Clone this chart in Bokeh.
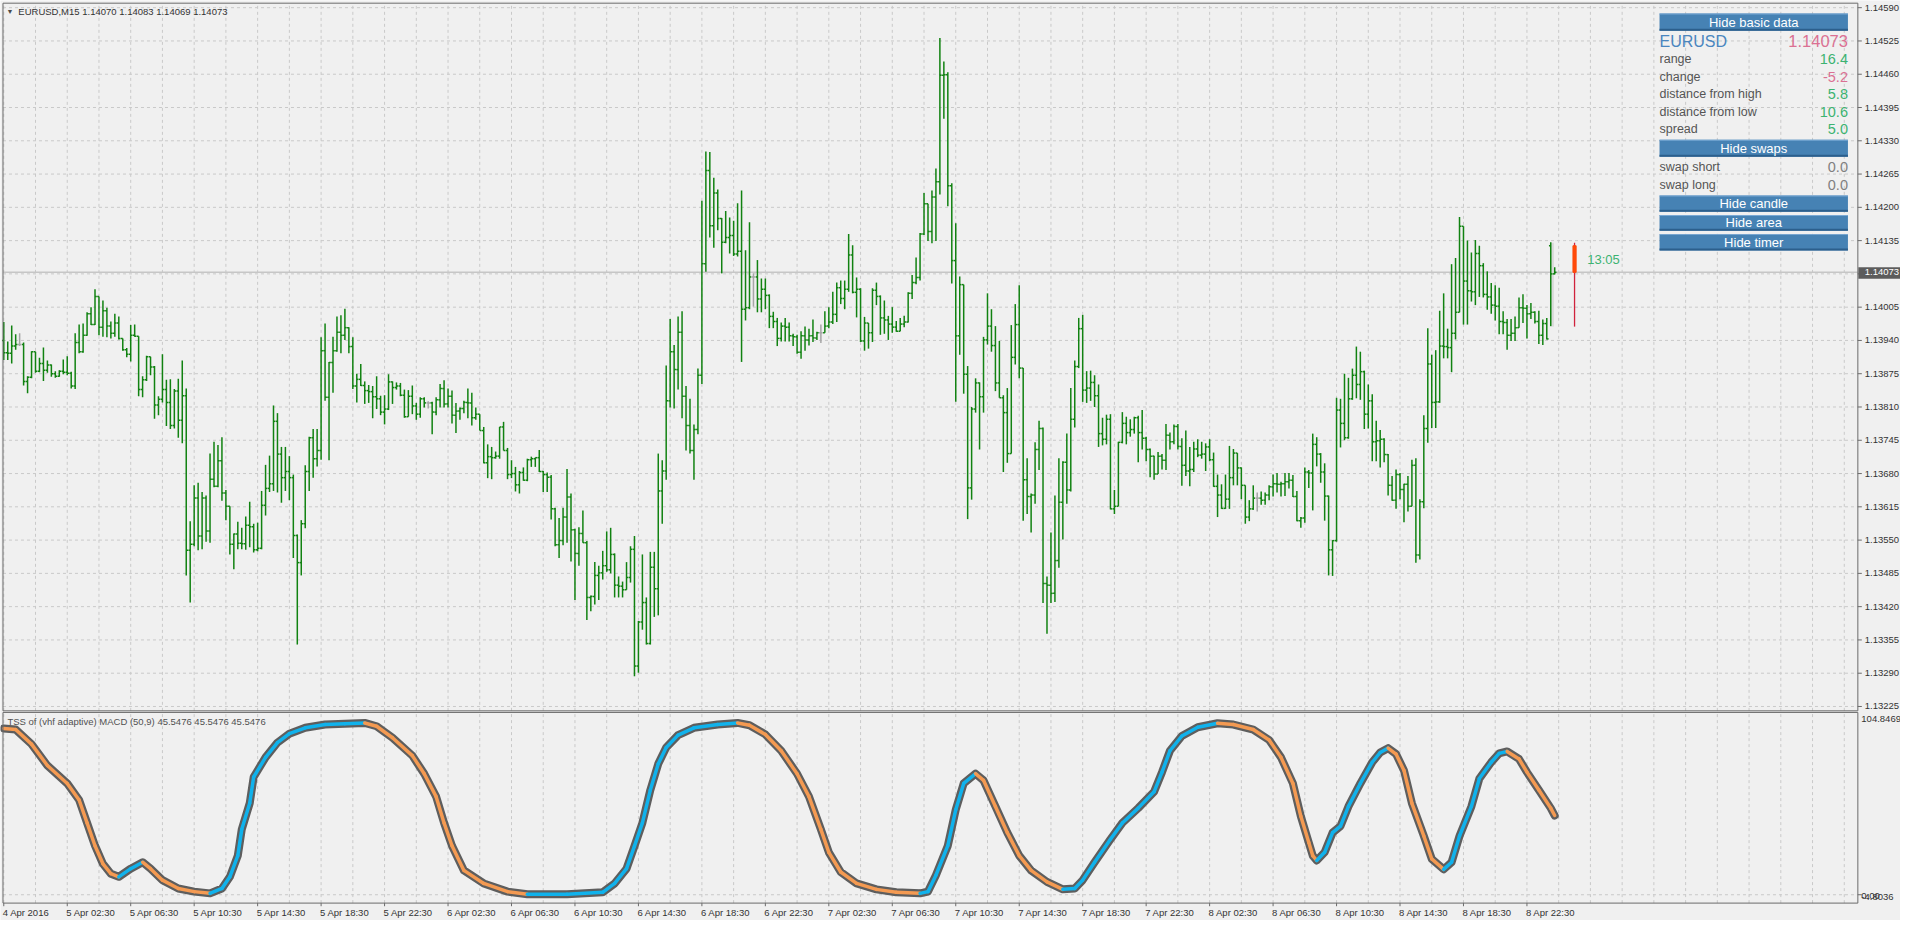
import numpy as np
from bokeh.plotting import figure
from bokeh.models import (Range1d, Label, LabelSet, BoxAnnotation, ColumnDataSource)
from bokeh.embed import file_html
from bokeh.resources import INLINE
from bokeh.core.properties import value

# ---------------- data (prices in points, 1 point = 0.00001) ----------------
symbol = "EURUSD"
period = "M15"
title_ohlc = "1.14070 1.14083 1.14069 1.14073"

opens_pt = [
113940,113916,113915,113929,113932,113932,113860,113868,113918,113880,
113895,113882,113892,113875,113870,113880,113878,113876,113851,113936,
113918,113950,113992,113971,114026,113966,113998,113968,113954,113974,
113944,113922,113913,113950,113948,113844,113863,113908,113888,113814,
113825,113844,113819,113774,113841,113784,113832,113530,113542,113632,
113558,113632,113568,113669,113655,113705,113642,113616,113542,113562,
113544,113543,113579,113576,113531,113534,113618,113651,113660,113782,
113718,113672,113684,113672,113559,113506,113582,113684,113750,113709,
113725,113920,113829,113897,113920,113956,113950,113965,113928,113851,
113864,113852,113842,113840,113830,113826,113800,113806,113859,113848,
113851,113833,113791,113831,113812,113796,113826,113818,113818,113800,
113824,113846,113816,113831,113794,113802,113807,113819,113818,113789,
113796,113764,113701,113713,113711,113714,113771,113725,113678,113680,
113658,113682,113667,113707,113709,113711,113684,113678,113673,113611,
113541,113549,113595,113634,113570,113524,113563,113545,113438,113440,
113481,113486,113500,113492,113522,113462,113460,113453,113477,113532,
113304,113390,113428,113348,113497,113455,113646,113685,113822,113918,
113883,113956,113831,113774,113725,113766,113872,114090,114272,114164,
114228,114178,114132,114141,114145,114109,114114,114001,114004,114064,
114064,114021,114040,114028,113987,113977,113944,113968,113966,113949,
113947,113917,113949,113941,113949,113945,113955,113955,113968,113976,
113991,114043,114022,114040,114107,114034,114040,113939,113974,113955,
114038,114026,113984,113980,113972,113966,113958,113972,113976,114032,
114053,114063,114148,114207,114153,114220,114250,114458,114459,114242,
114096,113949,114049,113874,113652,113806,113857,113830,113941,113968,
113930,113857,113828,113799,113719,113907,113971,113886,113668,113635,
113638,113727,113768,113465,113462,113446,113510,113624,113702,113648,
113786,113889,113963,113843,113847,113858,113832,113758,113747,113786,
113611,113616,113741,113778,113760,113766,113789,113760,113749,113727,
113714,113679,113714,113706,113755,113742,113772,113733,113696,113685,
113688,113728,113716,113718,113732,113707,113655,113638,113612,113630,
113672,113720,113691,113657,113595,113611,113632,113632,113628,113638,
113654,113660,113659,113660,113664,113667,113635,113588,113593,113683,
113681,113737,113718,113683,113636,113531,113549,113804,113778,113750,
113826,113872,113854,113879,113796,113822,113742,113744,113747,113717,
113657,113628,113678,113649,113659,113616,113696,113521,113625,113768,
113894,113819,113820,113929,113928,113926,113954,113995,114163,114056,
114037,114035,114110,114086,114030,114025,114009,114007,113977,113975,
113950,113954,113965,114004,114003,113992,113995,113977,113950,113973,
114125,114070]

highs_pt = [
113976,113938,113969,113952,113954,113936,113870,113919,113918,113906,
113926,113901,113893,113880,113882,113903,113909,113879,113954,113971,
113973,113995,114005,114040,114026,114018,114004,113977,113992,113987,
113944,113925,113970,113971,113948,113870,113910,113908,113890,113831,
113913,113863,113864,113845,113865,113901,113846,113587,113657,113662,
113644,113637,113719,113742,113736,113751,113648,113616,113563,113586,
113574,113596,113625,113582,113584,113646,113697,113715,113813,113798,
113732,113732,113714,113678,113561,113589,113696,113752,113767,113767,
113946,113973,113898,113947,113987,113989,114002,113966,113946,113875,
113894,113860,113853,113851,113870,113832,113833,113874,113860,113858,
113857,113844,113843,113852,113818,113829,113829,113821,113820,113829,
113855,113862,113846,113842,113818,113809,113822,113846,113838,113809,
113796,113771,113737,113732,113723,113771,113781,113730,113706,113693,
113685,113692,113709,113713,113711,113726,113685,113682,113677,113613,
113593,113613,113689,113641,113572,113575,113608,113548,113442,113507,
113500,113529,113567,113574,113524,113479,113469,113507,113538,113558,
113392,113522,113438,113527,113527,113719,113706,113891,113982,113931,
113987,113997,113851,113826,113776,113885,114213,114309,114308,114258,
114235,114179,114193,114180,114174,114208,114233,114116,114171,114071,
114097,114061,114061,114030,113996,113984,113975,113984,113975,113953,
113951,113958,113967,113963,113981,113957,113971,113997,114005,114035,
114053,114057,114057,114148,114126,114063,114042,113986,113974,114042,
114053,114028,114018,113988,114005,113978,113984,113988,114034,114068,
114102,114150,114228,114207,114233,114276,114531,114485,114464,114247,
114169,114065,114049,113890,113810,113866,113858,113947,114032,114001,
113968,113939,113833,113847,113970,114011,114048,113886,113710,113641,
113741,113783,113770,113479,113565,113637,113710,113704,113758,113847,
113901,113984,113990,113880,113881,113872,113854,113789,113795,113796,
113648,113742,113800,113791,113786,113791,113793,113804,113752,113729,
113715,113722,113718,113777,113760,113776,113777,113749,113764,113732,
113742,113747,113742,113739,113747,113721,113678,113659,113678,113734,
113728,113720,113692,113657,113628,113657,113643,113645,113643,113657,
113678,113681,113664,113681,113681,113677,113646,113595,113692,113687,
113758,113751,113720,113700,113637,113550,113828,113826,113875,113867,
113885,113928,113918,113881,113854,113835,113783,113765,113749,113718,
113675,113688,113681,113660,113675,113707,113710,113630,113794,113964,
113912,113921,113998,114032,113963,114089,114101,114181,114163,114135,
114112,114136,114125,114091,114075,114052,114048,114043,113997,113982,
113982,113987,114024,114030,114009,114013,113997,113998,113981,113984,
114132,114083]

lows_pt = [
113902,113902,113895,113922,113929,113852,113837,113866,113877,113878,
113861,113877,113869,113867,113869,113874,113872,113846,113845,113915,
113916,113949,113970,113970,113950,113947,113946,113944,113947,113942,
113920,113907,113899,113947,113831,113829,113861,113872,113787,113794,
113819,113773,113767,113768,113750,113739,113481,113428,113538,113530,
113532,113547,113545,113653,113653,113627,113589,113522,113493,113532,
113532,113531,113536,113526,113528,113532,113598,113644,113646,113643,
113623,113646,113628,113515,113346,113481,113573,113646,113672,113694,
113707,113822,113706,113838,113918,113915,113941,113915,113845,113819,
113851,113816,113818,113788,113806,113794,113776,113804,113816,113844,
113831,113789,113791,113796,113785,113789,113809,113807,113757,113794,
113809,113809,113809,113778,113759,113785,113798,113788,113774,113785,
113764,113700,113671,113669,113709,113709,113725,113669,113671,113645,
113641,113666,113665,113693,113693,113683,113644,113644,113590,113538,
113515,113540,113545,113508,113433,113500,113545,113394,113411,113424,
113433,113473,113488,113485,113438,113438,113438,113453,113467,113284,
113291,113375,113346,113346,113400,113403,113582,113668,113809,113807,
113844,113788,113725,113719,113668,113757,113855,114074,114141,114121,
114155,114071,114130,114110,114105,114104,113898,113979,114001,114006,
113995,113995,114001,113964,113964,113929,113938,113938,113938,113929,
113914,113904,113920,113930,113937,113941,113935,113955,113964,113972,
113976,114011,114001,114035,114032,113985,113937,113920,113924,113937,
114009,113951,113953,113941,113955,113957,113958,113966,113975,114021,
114050,114057,114146,114134,114130,114134,114225,114373,114202,114051,
113820,113912,113836,113591,113629,113799,113727,113799,113932,113918,
113841,113828,113683,113701,113719,113893,113866,113588,113601,113565,
113621,113687,113427,113367,113427,113429,113496,113551,113621,113645,
113770,113886,113820,113818,113822,113810,113732,113735,113737,113610,
113601,113616,113739,113737,113752,113758,113702,113727,113704,113673,
113668,113679,113688,113687,113727,113737,113727,113656,113675,113655,
113683,113712,113709,113685,113704,113654,113595,113611,113611,113611,
113657,113657,113630,113582,113587,113609,113606,113619,113619,113628,
113635,113643,113635,113636,113651,113634,113587,113574,113584,113652,
113608,113694,113662,113588,113481,113480,113547,113731,113745,113748,
113824,113827,113824,113767,113768,113704,113704,113692,113702,113637,
113627,113611,113630,113585,113606,113616,113506,113512,113612,113740,
113769,113769,113818,113905,113905,113878,113942,113995,113971,113971,
114016,114009,114025,114024,114000,113992,113979,113952,113952,113922,
113939,113939,113965,113974,113944,113982,113973,113933,113931,113942,
113968,114069]

closes_pt = [
113916,113915,113929,113932,113932,113860,113868,113918,113880,113895,
113882,113892,113875,113870,113880,113878,113876,113851,113936,113918,
113950,113992,113971,114026,113966,113998,113968,113954,113974,113944,
113922,113913,113950,113948,113844,113863,113908,113888,113814,113825,
113844,113819,113774,113841,113784,113832,113530,113542,113632,113558,
113632,113568,113669,113655,113705,113642,113616,113542,113562,113544,
113543,113579,113576,113531,113534,113618,113651,113660,113782,113718,
113672,113684,113672,113559,113506,113582,113684,113750,113709,113725,
113920,113829,113897,113920,113956,113950,113965,113928,113851,113864,
113852,113842,113840,113830,113826,113800,113806,113859,113848,113851,
113833,113791,113831,113812,113796,113826,113818,113818,113800,113824,
113846,113816,113831,113794,113802,113807,113819,113818,113789,113796,
113764,113701,113713,113711,113714,113771,113725,113678,113680,113658,
113682,113667,113707,113709,113711,113684,113678,113673,113611,113541,
113549,113595,113634,113570,113524,113563,113545,113438,113440,113481,
113486,113500,113492,113522,113462,113460,113453,113477,113532,113304,
113390,113428,113348,113497,113455,113646,113685,113822,113918,113883,
113956,113831,113774,113725,113766,113872,114090,114272,114164,114228,
114178,114132,114141,114145,114109,114114,114001,114004,114064,114064,
114021,114040,114028,113987,113977,113944,113968,113966,113949,113947,
113917,113949,113941,113949,113945,113955,113955,113968,113976,113991,
114043,114022,114040,114107,114034,114040,113939,113974,113955,114038,
114026,113984,113980,113972,113966,113958,113972,113976,114032,114053,
114063,114148,114207,114153,114220,114250,114458,114459,114242,114096,
113949,114049,113874,113652,113806,113857,113830,113941,113968,113930,
113857,113828,113799,113719,113907,113971,113886,113668,113635,113638,
113727,113768,113465,113462,113446,113510,113624,113702,113648,113786,
113889,113963,113843,113847,113858,113832,113758,113747,113786,113611,
113616,113741,113778,113760,113766,113789,113760,113749,113727,113714,
113679,113714,113706,113755,113742,113772,113733,113696,113685,113688,
113728,113716,113718,113732,113707,113655,113638,113612,113630,113672,
113720,113691,113657,113595,113611,113632,113632,113628,113638,113654,
113660,113659,113660,113664,113667,113635,113588,113593,113683,113681,
113737,113718,113683,113636,113531,113549,113804,113778,113750,113826,
113872,113854,113879,113796,113822,113742,113744,113747,113717,113657,
113628,113678,113649,113659,113616,113696,113521,113625,113768,113894,
113819,113820,113929,113928,113926,113954,113995,114163,114056,114037,
114035,114110,114086,114030,114025,114009,114007,113977,113975,113950,
113954,113965,114004,114003,113992,113995,113977,113950,113973,113943,
114070,114073]

time_labels = ["4 Apr 2016", "5 Apr 02:30", "5 Apr 06:30", "5 Apr 10:30", "5 Apr 14:30",
               "5 Apr 18:30", "5 Apr 22:30", "6 Apr 02:30", "6 Apr 06:30", "6 Apr 10:30",
               "6 Apr 14:30", "6 Apr 18:30", "6 Apr 22:30", "7 Apr 02:30", "7 Apr 06:30",
               "7 Apr 10:30", "7 Apr 14:30", "7 Apr 18:30", "7 Apr 22:30", "8 Apr 02:30",
               "8 Apr 06:30", "8 Apr 10:30", "8 Apr 14:30", "8 Apr 18:30", "8 Apr 22:30"]
bars_per_label = 16
bars_per_grid = 8

price_ticks = [1.13225, 1.13290, 1.13355, 1.13420, 1.13485, 1.13550, 1.13615, 1.13680,
               1.13745, 1.13810, 1.13875, 1.13940, 1.14005, 1.14070, 1.14135, 1.14200,
               1.14265, 1.14330, 1.14395, 1.14460, 1.14525, 1.14590]

ind_bar = [0,3,7,11,16,19,21,23,25,27,29,32,35,37,40,44,48,52,55,57,
           59,60,62,63,66,69,72,76,81,86,91,94,98,103,106,109,111,113,116,121,
           127,132,142,151,154,157,159,161,163,165,167,170,174,180,185,188,192,196,200,203,
           206,208,211,215,220,225,231,233,235,238,240,242,245,247,250,253,256,259,263,267,
           270,272,275,279,282,286,290,292,294,297,301,306,310,315,319,322,325,327,329,330,
           331,333,335,337,339,342,345,347,349,351,353,355,358,360,363,365,367,370,372,375,
           377,379,382,384,387,390,391]
ind_val = [95.6,95.0,86.6,74.3,64.0,54.5,41.3,28.2,17.8,12.1,10.3,15.0,18.7,15.0,8.4,3.6,1.8,0.8,3.6,10.3,
           22.5,37.6,52.6,67.7,79.0,87.5,92.6,96.0,97.9,98.4,98.8,96.9,90.3,80.0,69.6,56.4,41.3,28.2,14.0,6.5,
           1.8,0.3,0.3,1.4,6.5,15.0,28.0,41.3,60.2,75.3,84.7,91.8,96.0,97.9,98.8,97.5,92.2,82.8,69.6,56.4,
           37.6,24.4,13.1,6.5,3.1,1.4,0.8,1.8,11.2,28.2,48.9,64.0,69.6,65.8,50.8,35.7,22.5,14.0,7.4,3.1,
           3.6,8.4,18.7,31.9,41.3,49.8,59.2,70.5,82.8,91.3,96.3,98.6,97.9,95.0,89.0,79.0,64.0,45.1,30.0,22.5,
           19.7,24.4,35.7,39.5,50.8,64.0,76.2,81.8,84.3,80.9,71.5,52.6,33.8,20.6,14.6,18.7,33.8,50.8,66.8,76.2,
           81.3,82.4,78.1,70.5,60.2,49.8,45.5476]
ind_title = "TSS of (vhf adaptive) MACD (50,9) 45.5476 45.5476 45.5476"
ind_max, ind_min = 104.8469, -4.8036
ind_level = 0.0

bid = 1.14073
candle_open, candle_high, candle_low, candle_close = 1.14125, 1.14131, 1.13967, 1.14073
candle_start = 390
candle_shift = 5
timer_text = "13:05"

info_price = "1.14073"
basic_labels = ["range", "change", "distance from high", "distance from low", "spread"]
basic_values = ["16.4", "-5.2", "5.8", "10.6", "5.0"]
basic_signs = [1, -1, 1, 1, 1]
swap_labels = ["swap short", "swap long"]
swap_values = ["0.0", "0.0"]
buttons = ["Hide basic data", "Hide swaps", "Hide candle", "Hide area", "Hide timer"]

# ---------------- style / layout ----------------
BG = "#F0F0F0"
GRID = "#C9C9C9"
AXC = "#6B6B6B"
TXT = "#333333"
FONT = "Liberation Sans"
BAR_UP = "#118211"
BAR_DOJI = "#A6A6A6"
BTN = "#4682B4"
GREEN = "#3CB371"
PINK = "#DB7093"

W, H = 1900, 920            # drawing size (page minus margins)
REF_W, REF_H = 1916, 936    # layout is designed on the full window grid
KX, KY = W / REF_W, H / REF_H


def SX(rx):
    return rx * KX


def SY(ry):
    return (REF_H - ry) * KY


# chart boxes (x in bar units, y in each panel's own units)
X_L, X_R = -0.2, 467.425
P_BOT, P_TOP = 1.132165, 1.145988

opens = np.array(opens_pt) / 1e5
highs = np.array(highs_pt) / 1e5
lows = np.array(lows_pt) / 1e5
closes = np.array(closes_pt) / 1e5
idx = np.arange(len(closes))
last = len(closes) - 1

p = figure(width=W, height=H, x_range=Range1d(-0.825, 478.175), y_range=Range1d(1.1280695, 1.1460402),
           x_axis_location=None, y_axis_location=None, toolbar_location=None, output_backend="svg",
           min_border=0, background_fill_color=BG, border_fill_color=BG, outline_line_color=None)
p.extra_y_ranges = {"ind": Range1d(-14.808, 514.24)}
p.grid.visible = False

grid_bars = list(range(0, int(X_R), bars_per_grid))
ng, nt = len(grid_bars), len(price_ticks)
gstyle = dict(line_color=GRID, line_dash="3 3", line_width=1)

# grids
p.segment(x0=grid_bars, y0=[P_BOT] * ng, x1=grid_bars, y1=[P_TOP] * ng, **gstyle)
p.segment(x0=[X_L] * nt, y0=price_ticks, x1=[X_R] * nt, y1=price_ticks, **gstyle)
p.segment(x0=grid_bars, y0=[ind_min] * ng, x1=grid_bars, y1=[ind_max] * ng, y_range_name="ind", **gstyle)
p.segment(x0=[X_L], y0=[ind_level], x1=[X_R], y1=[ind_level], y_range_name="ind", **gstyle)

# bid line
p.segment(x0=[X_L], y0=[bid], x1=[X_R], y1=[bid], line_color="#C6C6C6", line_width=1.5)

# current candle area
p.quad(left=[candle_start - 0.2], right=[candle_start + 0.8], top=[candle_high], bottom=[candle_low],
       fill_color="#DADADA", line_color=None)

# OHLC bars
colors = [BAR_DOJI if o == c else BAR_UP for o, c in zip(opens_pt, closes_pt)]
src = ColumnDataSource(dict(x=idx, xl=idx - 0.45, xr=idx + 0.45, o=opens, h=highs, l=lows, c=closes,
                            col=colors))
p.segment(x0="x", y0="l", x1="x", y1="h", line_color="col", line_width=1.5, source=src)
p.segment(x0="xl", y0="o", x1="x", y1="o", line_color="col", line_width=1.5, source=src)
p.segment(x0="x", y0="c", x1="xr", y1="c", line_color="col", line_width=1.5, source=src)

# current candle drawn to the right of the last bar
cx = last + candle_shift
p.segment(x0=[cx], y0=[candle_low], x1=[cx], y1=[candle_high], line_color="#D0223C", line_width=1.3)
p.vbar(x=[cx], width=0.8, top=[candle_open], bottom=[candle_close], fill_color="#FF4A0A",
       line_color="#FF4A0A")
p.add_layout(Label(x=cx + 3.2, y=(candle_open + candle_close) / 2, text=timer_text,
                   text_font=FONT, text_font_size="13px", text_color=GREEN, text_baseline="middle"))

# indicator
p.line(ind_bar, ind_val, y_range_name="ind", line_width=8, line_color="#5E5E5E",
       line_join="round", line_cap="round")
seg_col = ["#10B2EC" if b >= a else "#F49A52" for a, b in zip(ind_val[:-1], ind_val[1:])]
p.segment(x0=ind_bar[:-1], y0=ind_val[:-1], x1=ind_bar[1:], y1=ind_val[1:], y_range_name="ind",
          line_color=seg_col, line_width=3.5, line_cap="round")

# panel borders
bstyle = dict(line_color=AXC, line_width=1)
p.segment(x0=[X_L, X_L, X_L, X_R], y0=[P_TOP, P_BOT, P_BOT, P_BOT],
          x1=[X_R, X_R, X_L, X_R], y1=[P_TOP, P_BOT, P_TOP, P_TOP], **bstyle)
p.segment(x0=[X_L, X_L, X_L, X_R], y0=[ind_max, ind_min, ind_min, ind_min],
          x1=[X_R, X_R, X_L, X_R], y1=[ind_max, ind_min, ind_max, ind_max], y_range_name="ind", **bstyle)

# price axis: ticks and labels
p.segment(x0=[X_R] * nt, y0=price_ticks, x1=[X_R + 1] * nt, y1=price_ticks, **bstyle)
shown = [t for t in price_ticks if abs(t - bid) > 0.0002]
psrc = ColumnDataSource(dict(x=[SX(1880)] * len(shown), y=shown, t=[f"{t:.5f}" for t in shown]))
p.add_layout(LabelSet(x="x", y="y", text="t", source=psrc, x_units="screen", y_units="data",
                      text_font=value(FONT), text_font_size=value("9.5px"), text_color=TXT,
                      text_baseline="middle"))
p.add_layout(BoxAnnotation(left=SX(1873.5), right=SX(1916), top=SY(271.5), bottom=SY(283),
                           left_units="screen", right_units="screen", top_units="screen",
                           bottom_units="screen", fill_color="#5C5C5C", fill_alpha=1.0, line_color=None))
p.add_layout(Label(x=SX(1880), y=bid, x_units="screen", y_units="data", text=f"{bid:.5f}",
                   text_font=FONT, text_font_size="9.5px", text_color="white", text_baseline="middle"))

# indicator axis labels
p.segment(x0=[X_R], y0=[ind_level], x1=[X_R + 1], y1=[ind_level], y_range_name="ind", **bstyle)
for txt, ry in [(f"{ind_max:.4f}", 731.0), (f"{ind_level:.2f}", 911.0), (f"{ind_min:.4f}", 912.5)]:
    p.add_layout(Label(x=SX(1876.5), y=SY(ry), x_units="screen", y_units="screen", text=txt,
                       text_font=FONT, text_font_size="9.5px", text_color=TXT, text_baseline="middle"))

# time axis
label_bars = list(range(0, bars_per_label * len(time_labels), bars_per_label))
nl = len(label_bars)
p.segment(x0=label_bars, y0=[ind_min] * nl, x1=label_bars, y1=[ind_min - 1.8] * nl,
          y_range_name="ind", **bstyle)
tsrc = ColumnDataSource(dict(x=label_bars, y=[SY(927.5)] * nl, t=time_labels))
p.add_layout(LabelSet(x="x", y="y", text="t", source=tsrc, x_units="data", y_units="screen",
                      text_font=value(FONT), text_font_size=value("9.5px"), text_color=TXT,
                      text_baseline="middle", text_align="left", x_offset=-1))

# titles
p.add_layout(Label(x=SX(6), y=SY(10.7), x_units="screen", y_units="screen", text="\u25BC",
                   text_font=FONT, text_font_size="7px", text_color="#4A4A4A", text_baseline="middle"))
p.add_layout(Label(x=SX(18), y=SY(10.7), x_units="screen", y_units="screen",
                   text=f"{symbol},{period}  {title_ohlc}", text_font=FONT, text_font_size="9.5px",
                   text_color=TXT, text_baseline="middle"))
p.add_layout(Label(x=SX(7), y=SY(734), x_units="screen", y_units="screen", text=ind_title,
                   text_font=FONT, text_font_size="9.5px", text_color="#505050", text_baseline="middle"))

# info panel
PL, PR = SX(1673), SX(1863)


def button(text, r0, r1):
    common = dict(left=PL, right=PR, left_units="screen", right_units="screen",
                  top_units="screen", bottom_units="screen", line_color=None, fill_alpha=1.0)
    p.add_layout(BoxAnnotation(top=SY(r0), bottom=SY(r1), fill_color=BTN, **common))
    p.add_layout(BoxAnnotation(top=SY(r1 - 2), bottom=SY(r1), fill_color="#2C5F8C", **common))
    p.add_layout(BoxAnnotation(top=SY(r0), bottom=SY(r0 + 1), fill_color="#79A8D4", **common))
    p.add_layout(Label(x=(PL + PR) / 2, y=SY((r0 + r1) / 2), x_units="screen", y_units="screen",
                       text=text, text_font=FONT, text_font_size="13px", text_color="white",
                       text_align="center", text_baseline="middle"))


def row(label, val, color, ry, lsize="12.5px", vsize="14.5px", lcolor="#555555"):
    p.add_layout(Label(x=PL, y=SY(ry), x_units="screen", y_units="screen", text=label,
                       text_font=FONT, text_font_size=lsize, text_color=lcolor, text_baseline="middle"))
    p.add_layout(Label(x=PR, y=SY(ry), x_units="screen", y_units="screen", text=val,
                       text_font=FONT, text_font_size=vsize, text_color=color, text_align="right",
                       text_baseline="middle"))


button(buttons[0], 13.3, 30.7)
row(symbol, info_price, PINK, 41.7, lsize="16px", vsize="16.5px", lcolor="#4A86BF")
for k, (lab, val, sgn) in enumerate(zip(basic_labels, basic_values, basic_signs)):
    row(lab, val, GREEN if sgn > 0 else PINK, 60.0 + k * 17.8)
button(buttons[1], 141.7, 159.0)
for k, (lab, val) in enumerate(zip(swap_labels, swap_values)):
    row(lab, val, "#808080", 169.3 + k * 18.4)
button(buttons[2], 198.3, 215.0)
button(buttons[3], 218.3, 234.3)
button(buttons[4], 237.7, 254.3)

open("out.html", "w").write(file_html(p, INLINE))
